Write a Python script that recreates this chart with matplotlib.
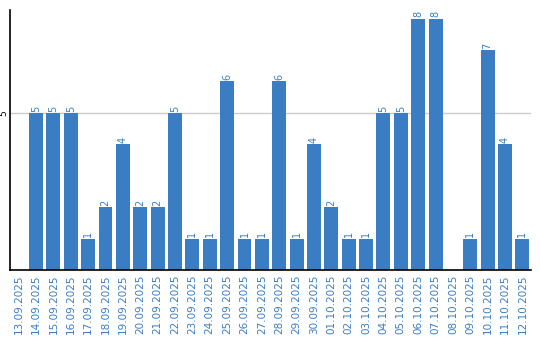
import numpy as np
import matplotlib
matplotlib.use("Agg")
import matplotlib.pyplot as plt

dates = ["13.09.2025", "14.09.2025", "15.09.2025", "16.09.2025", "17.09.2025",
         "18.09.2025", "19.09.2025", "20.09.2025", "21.09.2025", "22.09.2025",
         "23.09.2025", "24.09.2025", "25.09.2025", "26.09.2025", "27.09.2025",
         "28.09.2025", "29.09.2025", "30.09.2025", "01.10.2025", "02.10.2025",
         "03.10.2025", "04.10.2025", "05.10.2025", "06.10.2025", "07.10.2025",
         "08.10.2025", "09.10.2025", "10.10.2025", "11.10.2025", "12.10.2025"]
counts = [0, 5, 5, 5, 1, 2, 4, 2, 2, 5, 1, 1, 6, 1, 1, 6, 1, 4, 2, 1,
          1, 5, 5, 8, 8, 0, 1, 7, 4, 1]

BLUE = "#3a7dc3"

fig = plt.figure(figsize=(5.4, 3.4), dpi=100)
ax = fig.add_axes([0.0185, 0.206, 0.965, 0.765])
x = np.arange(len(dates))
ax.axhline(5, color="#cccccc", lw=1, zorder=0)
ax.bar(x, counts, width=0.8, color=BLUE, zorder=2)
for xi, v in zip(x, counts):
    if v > 0:
        ax.text(xi, v + 0.04, str(v), rotation=90, ha="center", va="bottom",
                color=BLUE, fontsize=7)

ax.set_xlim(-0.5, len(dates) - 0.5)
ax.set_ylim(0, 8.28)
ax.set_xticks(x)
ax.set_xticklabels(dates, rotation=90, color=BLUE, fontsize=7.5)
ax.set_yticks([5])
ax.set_yticklabels(["5"], rotation=90, va="center", fontsize=6.5)
ax.tick_params(axis="x", length=0, pad=3)
ax.tick_params(axis="y", length=0, pad=1)
for s in ["top", "right"]:
    ax.spines[s].set_visible(False)
for s in ["left", "bottom"]:
    ax.spines[s].set_linewidth(1.2)

fig.savefig("out.png", dpi=100)
